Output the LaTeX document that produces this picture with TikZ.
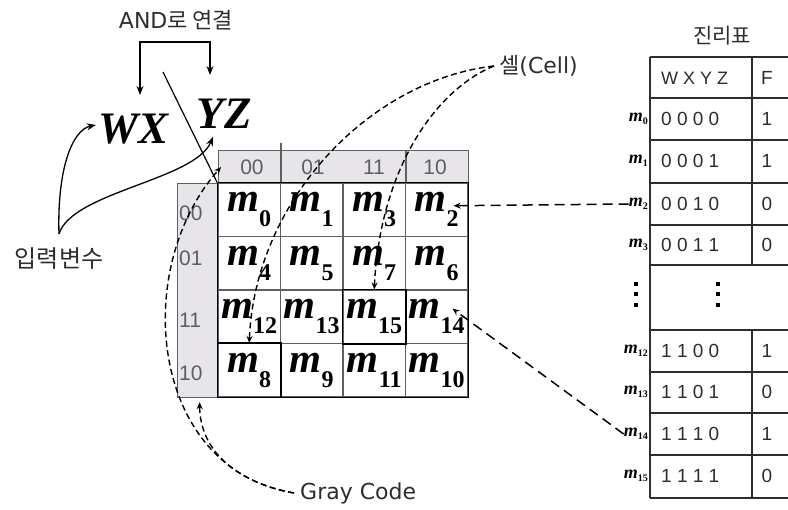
\documentclass[tikz,border=0pt]{standalone}
\usepackage{fontspec}
\newfontfamily\krfont{Noto Sans CJK KR}
\newfontfamily\dvfont{DejaVu Sans}
\newfontfamily\tmsfont{Liberation Serif}
\newfontfamily\arfont{Liberation Sans}
\usetikzlibrary{arrows.meta}

\definecolor{hdrgray}{RGB}{231,229,233}
\definecolor{gridgray}{RGB}{95,95,95}
\definecolor{txtgray}{RGB}{45,45,45}

% minterm in the map
\newcommand{\mbig}[1]{{\tmsfont\bfseries\itshape\fontsize{41}{41}\selectfont m}\raisebox{-15pt}{\tmsfont\bfseries\fontsize{24}{24}\selectfont #1}}
% minterm beside the table
\newcommand{\msmall}[1]{{\tmsfont\bfseries\itshape\fontsize{18}{18}\selectfont m}\raisebox{-3pt}{\tmsfont\bfseries\fontsize{10}{10}\selectfont #1}}

\begin{document}
\begin{tikzpicture}[x=1pt, y=-1pt,
  cell/.style={draw=gridgray, line width=1.2pt, minimum width=62.5pt, minimum height=53.5pt, inner sep=0pt},
  hdr/.style={draw=gridgray, line width=1.2pt, fill=hdrgray, inner sep=0pt},
  hdrtxt/.style={font=\arfont\fontsize{21}{21}\selectfont, text=gridgray, inner sep=0pt},
  note/.style={font=\krfont\fontsize{22}{22}\selectfont, text=txtgray, inner sep=0pt},
  tabtxt/.style={font=\arfont\fontsize{19}{19}\selectfont, text=txtgray, inner sep=0pt},
  tabline/.style={draw=txtgray, line width=1.4pt},
  arr/.style={-{Stealth[length=9pt, width=7pt]}, line width=1.3pt},
  dasharr/.style={-{Stealth[length=7pt, width=6pt]}, line width=1.4pt, dash pattern=on 6pt off 3.5pt},
  longdash/.style={-{Stealth[length=7pt, width=6pt]}, line width=1.5pt, dash pattern=on 10pt off 6pt}
]
\useasboundingbox (0,0) rectangle (788,510);

% headers of the map
\node[hdr, anchor=north west, minimum width=250pt, minimum height=33pt] (cols) at (218,150) {};
\node[hdr, anchor=north west, minimum width=41pt, minimum height=214pt] (rows) at (177,183) {};
\foreach \i/\t in {0/00,1/01,2/11,3/10}
  \node[hdrtxt] (h\i) at (252+61*\i,167) {\t};
\foreach \i/\t/\y in {0/00/213,1/01/258,2/11/320,3/10/373}
  \node[hdrtxt, anchor=west] (r\i) at (179,\y) {\t};
\draw[gridgray, line width=1.2pt] (281,143) -- (281,183);
\draw[gridgray, line width=1.2pt] (406,150) -- (406,183);

% cells
\foreach \r/\rv in {0/0,1/1,2/3,3/2}
  \foreach \c/\cv in {0/0,1/1,2/3,3/2} {
    \pgfmathtruncatemacro{\idx}{4*\rv+\cv}
    \node[cell] (c\idx) at (249.25+62.5*\c, 209.75+53.5*\r) {\mbig{\idx}};
  }
\draw[line width=1.5pt] (c8.north west) rectangle (c8.south east);
\draw[line width=1.5pt] (c15.north west) rectangle (c15.south east);
\draw[line width=1.5pt] (c0.north west) rectangle (c10.south east);

% variables
\node[inner sep=0pt, font=\tmsfont\bfseries\itshape\fontsize{45}{45}\selectfont] (wx) at (134,129) {WX};
\node[inner sep=0pt, font=\tmsfont\bfseries\itshape\fontsize{45}{45}\selectfont] (yz) at (224,114) {YZ};
\node[note] (and) at (176,20) {{\dvfont AND}로 연결};
\node[note, font=\krfont\fontsize{24}{24}\selectfont] (inp) at (59,259) {입력변수};
\coordinate (andL) at (140,95);
\coordinate (andR) at (210,75);
\coordinate (slashtop) at (163,72);

\draw[{Stealth[length=9pt, width=7pt]}-{Stealth[length=9pt, width=7pt]}, line width=1.3pt]
  (andL) |- ([yshift=-12pt]and.south) -| (andR);
\draw[line width=1.2pt] (slashtop) -- (cols.south west);
\draw[arr] ([yshift=14pt]inp.north) .. controls (57,170) and (72,130) .. ([xshift=-3pt,yshift=4pt]wx.west);
\draw[arr] ([yshift=14pt]inp.north) .. controls (72,192) and (195,180) .. ([xshift=-11pt,yshift=-8pt]yz.south);

% cell and gray code notes
\node[note, anchor=west] (cellnote) at (499,66) {셀{\dvfont(Cell)}};
\node[note, anchor=west, font=\dvfont\fontsize{22}{22}\selectfont] (gray) at (300,493) {Gray Code};
\draw[dasharr] ([xshift=-5pt]cellnote.west) .. controls (370,80) and (255,200) .. (c8.north);
\draw[dasharr] ([xshift=-5pt]cellnote.west) .. controls (435,90) and (380,170) .. (c15.north);
\draw[dasharr] ([xshift=-6pt]gray.west) .. controls (150,470) and (130,270) .. ([xshift=3pt]cols.west);
\draw[dasharr] ([xshift=-6pt]gray.west) .. controls (235,482) and (200,450) .. ([xshift=1.5pt,yshift=-4pt]rows.south);

% truth table
\node[note, font=\krfont\fontsize{21}{21}\selectfont] (title) at (722,36) {진리표};
\foreach \y in {57,98,140,183,225,265,330,372,413,455,498}
  \draw[tabline] (650,\y) -- (788,\y);
\draw[tabline] (650,57) -- (650,498);
\draw[tabline] (752,57) -- (752,265);
\draw[tabline] (752,330) -- (752,498);
\node[tabtxt, anchor=west, font=\arfont\fontsize{18}{18}\selectfont] (bits) at (661,78) {W X Y Z};
\node[tabtxt] (fcol) at (767,78) {F};
\foreach \n/\b/\f/\y in {0/0 0 0 0/1/119,1/0 0 0 1/1/161,2/0 0 1 0/0/204,3/0 0 1 1/0/245,
    12/1 1 0 0/1/351,13/1 1 0 1/0/392,14/1 1 1 0/1/434,15/1 1 1 1/0/476} {
  \node[anchor=east, inner sep=0pt] (l\n) at (648,\y) {\msmall{\n}};
  \node[tabtxt, anchor=west] (b\n) at (661,\y) {\b};
  \node[tabtxt] (f\n) at (767,\y) {\f};
}
% vertical dots
\foreach \x in {636,718}
  \foreach \y in {284,294,305}
    \fill (\x-2,\y-2) rectangle (\x+2,\y+2);

\draw[longdash] (l2.west) -- ([xshift=-15pt,yshift=4pt]c2.east);
\draw[longdash] (l14.west) -- ([xshift=-16pt,yshift=8pt]c14.east);
\end{tikzpicture}
\end{document}
